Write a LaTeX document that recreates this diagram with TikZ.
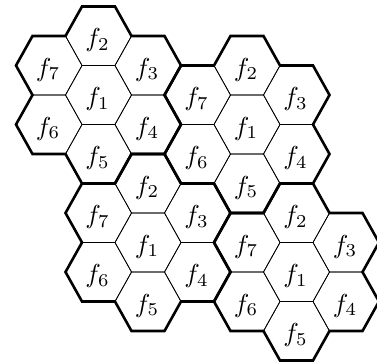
\documentclass[tikz,border=0pt]{standalone}
\usepackage{graphicx}
\def\R{33}
\def\h{29.5}
\tikzset{
  cellline/.style={line width=0.7pt, black},
  clusterline/.style={line width=2.6pt, line join=miter, black},
  lab/.style={inner sep=0pt}
}
\newcommand\mylabel[1]{\scalebox{2.6}{$f_{#1}$}}
\newcommand\mycluster[3]{%
  \begin{scope}[shift={(#2,#3)}]
    \foreach \i/\dx/\dy in {1/0/0, 2/0/-2, 3/1.5/-1, 4/1.5/1, 5/0/2, 6/-1.5/1, 7/-1.5/-1}{
      \begin{scope}[shift={(\dx*\R,\dy*\h)}]
        \draw[cellline] (-\R,0) -- (-\R/2,-\h) -- (\R/2,-\h) -- (\R,0) -- (\R/2,\h) -- (-\R/2,\h) -- cycle;
        \node[lab] (#1f\i) at (-1,4) {\mylabel{\i}};
      \end{scope}
    }
  \end{scope}}
\newcommand\myoutline[2]{%
  \begin{scope}[shift={(#1,#2)}]
    \draw[clusterline] (-\R/2,-3*\h) -- (\R/2,-3*\h) -- (\R,-2*\h) -- (2*\R,-2*\h) -- (2.5*\R,-\h) -- (2*\R,0) -- (2.5*\R,\h) -- (2*\R,2*\h) -- (\R,2*\h) -- (\R/2,3*\h) -- (-\R/2,3*\h) -- (-\R,2*\h) -- (-2*\R,2*\h) -- (-2.5*\R,\h) -- (-2*\R,0) -- (-2.5*\R,-\h) -- (-2*\R,-2*\h) -- (-\R,-2*\h) -- cycle;
  \end{scope}}
\begin{document}
\begin{tikzpicture}[x=1pt,y=-1pt]
  \useasboundingbox[fill=white] (0,0) rectangle (377,361);
  \mycluster{a}{98.5}{95}
  \mycluster{b}{247}{124.5}
  \mycluster{c}{148}{242.5}
  \mycluster{d}{296.5}{272}
  \myoutline{98.5}{95}
  \myoutline{247}{124.5}
  \myoutline{148}{242.5}
  \myoutline{296.5}{272}
\end{tikzpicture}
\end{document}
